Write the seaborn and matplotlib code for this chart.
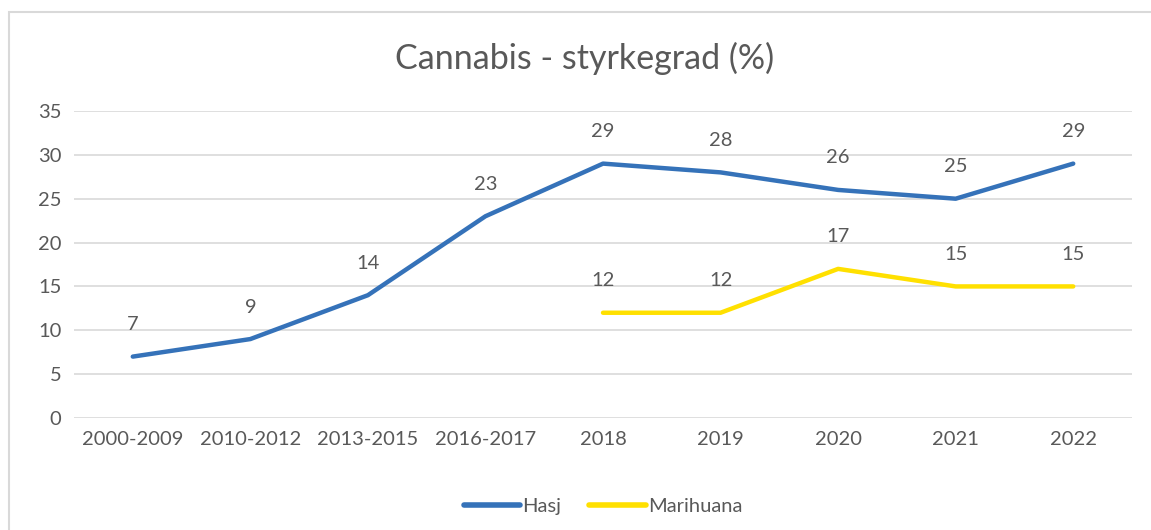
import pandas as pd
import numpy as np
import matplotlib
matplotlib.use('Agg')
import matplotlib.pyplot as plt
import seaborn as sns
from matplotlib.patches import Rectangle

categories = ['2000-2009', '2010-2012', '2013-2015', '2016-2017',
              '2018', '2019', '2020', '2021', '2022']
hasj = [7, 9, 14, 23, 29, 28, 26, 25, 29]
marihuana = [np.nan, np.nan, np.nan, np.nan, 12, 12, 17, 15, 15]

series_names = ['Hasj', 'Marihuana']
series_colors = ['#3572B9', '#FFE000']

sns.set_theme(style='white')
plt.rcParams['font.family'] = ['Lato', 'DejaVu Sans']
text_color = '#595959'

rows = []
for name, vals in zip(series_names, [hasj, marihuana]):
    for i, v in enumerate(vals):
        rows.append({'pos': i, 'value': v, 'series': name})
df = pd.DataFrame(rows).dropna()

fig = plt.figure(figsize=(11.51, 5.30), dpi=100)
ax = fig.add_axes([0.0643, 0.2113, 0.9192, 0.5793])

sns.lineplot(data=df, x='pos', y='value', hue='series',
             palette=dict(zip(series_names, series_colors)),
             linewidth=3.2, ax=ax, legend=True, sort=False,
             solid_capstyle='round')

# data labels
for name, vals in zip(series_names, [hasj, marihuana]):
    for i, v in enumerate(vals):
        if not np.isnan(v):
            ax.annotate(f'{v:g}', (i, v), xytext=(0, 23), textcoords='offset points',
                        ha='center', va='center', fontsize=14.5, color=text_color)

ax.set_xlim(-0.5, len(categories) - 0.5)
ax.set_ylim(0, 35)
ax.set_yticks(range(0, 36, 5))
ax.set_xticks(range(len(categories)))
ax.set_xticklabels(categories)
ax.tick_params(axis='both', labelsize=14.5, labelcolor=text_color, length=0, pad=9)
ax.grid(axis='y', color='#D9D9D9', linewidth=1.2)
ax.set_axisbelow(True)
for s in ax.spines.values():
    s.set_visible(False)
ax.set_xlabel('')
ax.set_ylabel('')

leg = ax.legend(loc='upper center', bbox_to_anchor=(0.5, -0.20), ncol=2,
                frameon=False, fontsize=14.5, handlelength=2.8, columnspacing=1.4,
                handletextpad=0.1)
for t in leg.get_texts():
    t.set_color(text_color)
for h in leg.get_lines():
    h.set_solid_capstyle('round')
    h.set_linewidth(4.0)

fig.text(0.508, 0.89, 'Cannabis - styrkegrad (%)', ha='center', va='center',
         fontsize=24.5, color=text_color)

# chart border (partially cut off at right/bottom)
fig.patches.append(Rectangle((9 / 1151, -0.05), 1.2, 1 - 12 / 530 + 0.05,
                             transform=fig.transFigure, fill=False,
                             edgecolor='#D9D9D9', linewidth=1.5))

fig.savefig('out.png', dpi=100)
plt.close(fig)
